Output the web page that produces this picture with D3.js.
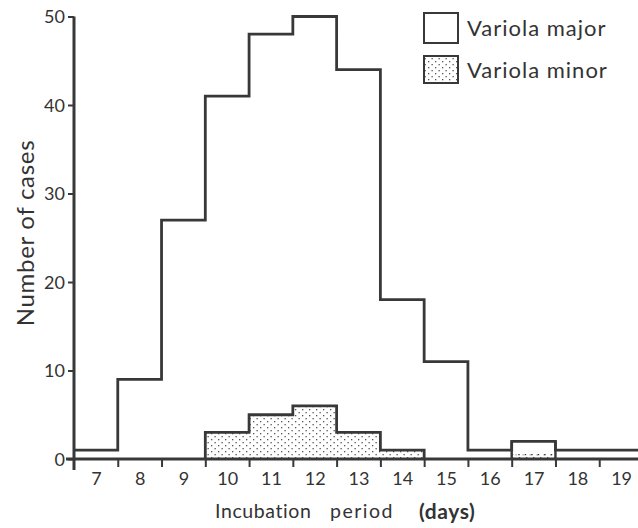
<!DOCTYPE html>
<html>
<head>
<meta charset="utf-8">
<script src="https://cdn.jsdelivr.net/npm/d3@7/dist/d3.min.js"></script>
<style>
  html, body { margin: 0; padding: 0; background: #fff; }
  svg { display: block; }
  text { font-family: Lato, "Open Sans", sans-serif; fill: #333; }
</style>
</head>
<body>
<svg id="chart" width="638" height="528"></svg>
<script>
// ---- data ----
const days = [7, 8, 9, 10, 11, 12, 13, 14, 15, 16, 17, 18, 19];
const majorCases = [1, 9, 27, 41, 48, 50, 44, 18, 11, 1, 2, 1, 1];
const minorCases = [0, 0, 0, 3, 5, 6, 3, 1, 0, 0, 0.5, 0, 0];
const yTicks = [0, 10, 20, 30, 40, 50];
const xLabels = ["7", "8", "9", "10", "11", "12", "13", "14", "15", "16", "17", "18", "19"];
const legendLabels = ["Variola major", "Variola minor"];

const ink = "#383838";
const svg = d3.select("#chart");

const x = d3.scaleLinear().domain([6.5, 19.5]).range([74, 643]);
const y = d3.scaleLinear().domain([0, 50]).range([459, 16.5]);

// stipple pattern
const defs = svg.append("defs");
const pat = defs.append("pattern").attr("id", "dots")
  .attr("patternUnits", "userSpaceOnUse").attr("width", 7).attr("height", 6);
pat.append("rect").attr("x", 1).attr("y", 1).attr("width", 1.3).attr("height", 1.3).attr("fill", "#555");
pat.append("rect").attr("x", 4.5).attr("y", 4).attr("width", 1.3).attr("height", 1.3).attr("fill", "#555");

// minor histogram fill (stippled)
const minorData = days.map((d, i) => ({ d, v: minorCases[i] })).filter(o => o.v > 0);
svg.append("g").selectAll("rect").data(minorData).join("rect")
  .attr("x", o => x(o.d - 0.5))
  .attr("y", o => y(o.v))
  .attr("width", o => x(o.d + 0.5) - x(o.d - 0.5))
  .attr("height", o => y(0) - y(o.v))
  .attr("fill", "url(#dots)");

// minor outline: contiguous runs of bins with value >= 1
const runs = [];
let cur = null;
days.forEach((d, i) => {
  if (minorCases[i] >= 1) {
    if (!cur) { cur = []; runs.push(cur); }
    cur.push([d, minorCases[i]]);
  } else cur = null;
});
const runPath = run => {
  const pts = [[run[0][0] - 0.5, 0]];
  run.forEach(([d, v]) => { pts.push([d - 0.5, v]); pts.push([d + 0.5, v]); });
  pts.push([run[run.length - 1][0] + 0.5, 0]);
  return d3.line().x(p => x(p[0])).y(p => y(p[1]))(pts);
};
svg.append("g").selectAll("path").data(runs).join("path")
  .attr("d", runPath).attr("fill", "none").attr("stroke", ink).attr("stroke-width", 2.8);

// tiny minor value (17 days): dotted top
const smallMinor = minorData.filter(o => o.v < 1);
svg.append("g").selectAll("path").data(smallMinor).join("path")
  .attr("d", o => `M${x(o.d - 0.5)},${y(o.v)}H${x(o.d + 0.5)}`)
  .attr("stroke", ink).attr("stroke-width", 1.4).attr("stroke-dasharray", "1.5,5").attr("fill", "none");

// major histogram outline (step)
const majorPts = days.map((d, i) => [d - 0.5, majorCases[i]]);
majorPts.push([days[days.length - 1] + 0.5, majorCases[majorCases.length - 1]]);
const stepLine = d3.line().x(p => x(p[0])).y(p => y(p[1])).curve(d3.curveStepAfter);
svg.append("path").attr("d", stepLine(majorPts))
  .attr("fill", "none").attr("stroke", ink).attr("stroke-width", 2.8).attr("stroke-linejoin", "miter");

// vertical sides of the 17-day major box down to the baseline
const boxIdx = days.indexOf(17);
svg.append("path")
  .attr("d", `M${x(16.5)},${y(0)}V${y(majorCases[boxIdx])}M${x(17.5)},${y(0)}V${y(majorCases[boxIdx])}`)
  .attr("stroke", ink).attr("stroke-width", 2.4).attr("fill", "none");

// y axis
const yAxis = d3.axisLeft(y).tickValues(yTicks).tickSize(6).tickPadding(3).tickFormat(d3.format("d"));
const gy = svg.append("g").attr("transform", `translate(${x(6.5)},0)`).call(yAxis);
gy.select(".domain").remove();
gy.selectAll(".tick line").attr("stroke", ink).attr("stroke-width", 2);
gy.selectAll(".tick text").attr("font-size", 18).attr("fill", ink).attr("dy", "0.34em")
  .style("font-family", "Lato, sans-serif");
svg.append("line").attr("x1", x(6.5)).attr("x2", x(6.5)).attr("y1", y(50)).attr("y2", y(0) + 11)
  .attr("stroke", ink).attr("stroke-width", 3);

// x axis baseline + ticks at bin edges
svg.append("line").attr("x1", 66).attr("x2", 638).attr("y1", y(0)).attr("y2", y(0))
  .attr("stroke", ink).attr("stroke-width", 3.2);
const edgeVals = days.slice(0, -1).map(d => d + 0.5);
const xAxisEdges = d3.axisBottom(x).tickValues(edgeVals).tickSize(8).tickFormat("");
const gx = svg.append("g").attr("transform", `translate(0,${y(0)})`).call(xAxisEdges);
gx.select(".domain").remove();
gx.selectAll(".tick line").attr("stroke", ink).attr("stroke-width", 2);

const xAxisLabels = d3.axisBottom(x).tickValues(days).tickSize(0).tickPadding(13)
  .tickFormat((d, i) => xLabels[i]);
const gxl = svg.append("g").attr("transform", `translate(0,${y(0)})`).call(xAxisLabels);
gxl.select(".domain").remove();
gxl.selectAll(".tick text").attr("font-size", 18).attr("fill", ink)
  .style("font-family", "Lato, sans-serif");

// axis titles
svg.append("text").attr("transform", "translate(34,233) rotate(-90)")
  .attr("text-anchor", "middle").attr("font-size", 24).attr("letter-spacing", 0.7)
  .text("Number of cases");
const xt = svg.append("g").attr("font-size", 19.5).attr("letter-spacing", 0.6);
xt.append("text").attr("x", 215).attr("y", 518).text("Incubation");
xt.append("text").attr("x", 330).attr("y", 518).attr("letter-spacing", 1.5).text("period");
xt.append("text").attr("x", 419).attr("y", 519).attr("font-size", 21).attr("font-weight", 700).text("(days)");

// legend
const lg = svg.append("g");
const legendY = [13, 56];
lg.selectAll("rect").data(legendLabels).join("rect")
  .attr("x", 424).attr("y", (d, i) => legendY[i]).attr("width", 34).attr("height", (d, i) => i === 0 ? 30 : 27)
  .attr("fill", (d, i) => i === 0 ? "#fff" : "url(#dots)")
  .attr("stroke", ink).attr("stroke-width", 2);
lg.selectAll("text").data(legendLabels).join("text")
  .attr("x", 467).attr("y", (d, i) => legendY[i] + (i === 0 ? 23 : 22))
  .attr("font-size", 22).attr("letter-spacing", 1).text(d => d);
</script>
</body>
</html>
